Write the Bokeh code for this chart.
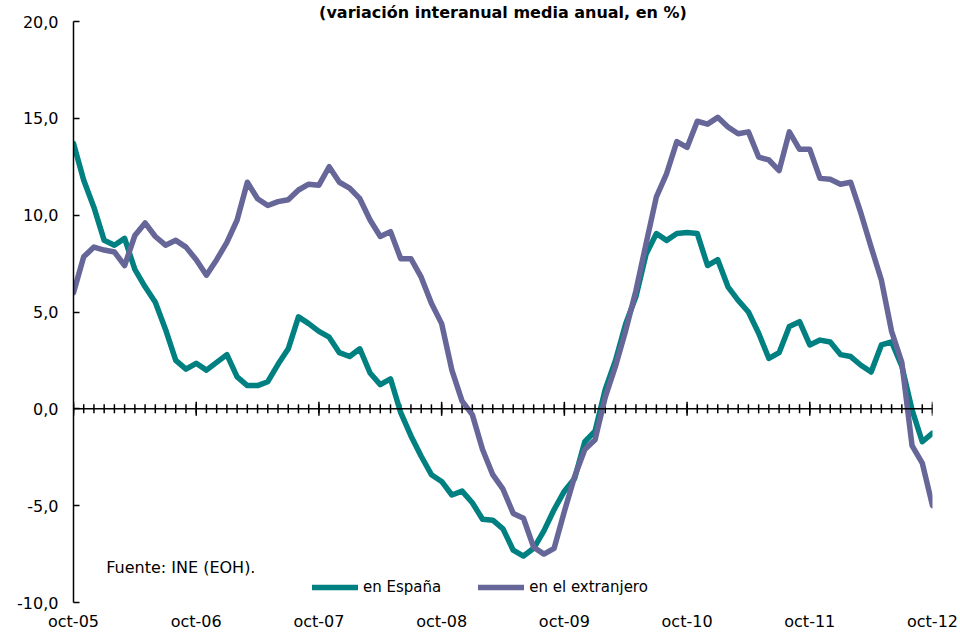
import math
from bokeh.plotting import figure
from bokeh.models import Span, Label, Legend, LegendItem, FixedTicker, Range1d
from bokeh.embed import file_html
from bokeh.resources import INLINE

# ---- data ----
tick_labels = ["oct-05", "oct-06", "oct-07", "oct-08", "oct-09", "oct-10", "oct-11", "oct-12"]
months = list(range(85))  # monthly, oct-05 .. oct-12
year_ticks = list(range(0, 85, 12))

espana = [13.7, 11.8, 10.4, 8.7, 8.45, 8.8, 7.2, 6.3, 5.5, 4.1,
          2.5, 2.05, 2.35, 2.0, 2.4, 2.8, 1.65, 1.2, 1.2, 1.4,
          2.3, 3.1, 4.75, 4.4, 4.0, 3.7, 2.9, 2.7, 3.1, 1.85,
          1.25, 1.55, -0.2, -1.4, -2.45, -3.4, -3.75, -4.45, -4.25, -4.85,
          -5.7, -5.75, -6.2, -7.3, -7.6, -7.2, -6.3, -5.2, -4.25, -3.6,
          -1.7, -1.15, 1.0, 2.5, 4.4, 5.8, 8.0, 9.05, 8.7, 9.05,
          9.1, 9.05, 7.4, 7.7, 6.3, 5.6, 5.0, 3.9, 2.6, 2.9,
          4.25, 4.5, 3.3, 3.55, 3.45, 2.8, 2.7, 2.25, 1.9, 3.3,
          3.45, 2.2, -0.05, -1.7, -1.25]

extranjero = [6.0, 7.85, 8.35, 8.2, 8.1, 7.4, 8.95, 9.6, 8.9, 8.45,
              8.7, 8.35, 7.7, 6.9, 7.7, 8.6, 9.75, 11.7, 10.85, 10.5,
              10.7, 10.8, 11.3, 11.6, 11.55, 12.5, 11.7, 11.4, 10.85, 9.75,
              8.9, 9.15, 7.75, 7.75, 6.8, 5.45, 4.4, 2.0, 0.4, -0.3,
              -2.1, -3.4, -4.15, -5.4, -5.65, -7.15, -7.5, -7.2, -5.3, -3.5,
              -2.1, -1.6, 0.6, 2.2, 4.05, 6.1, 8.55, 10.95, 12.15, 13.8,
              13.5, 14.85, 14.7, 15.05, 14.55, 14.2, 14.3, 13.0, 12.85, 12.3,
              14.3, 13.4, 13.4, 11.9, 11.85, 11.6, 11.7, 10.1, 8.35, 6.65,
              4.0, 2.4, -1.9, -2.8, -5.0]

y_ticks = [-10, -5, 0, 5, 10, 15, 20]
y_tick_labels = ["-10,0", "-5,0", "0,0", "5,0", "10,0", "15,0", "20,0"]

series_names = ["en España", "en el extranjero"]
colors = ["#008080", "#666699"]
title_text = "(variación interanual media anual, en %)"
source_text = "Fuente: INE (EOH)."

FONT = "DejaVu Sans"

p = figure(width=960, height=633, output_backend="svg", toolbar_location=None,
           x_range=Range1d(0, 84), y_range=Range1d(-10, 20),
           min_border_left=73, min_border_right=28, min_border_top=21,
           min_border_bottom=30)

p.title.text = title_text
p.title.align = "center"
p.title.text_font = FONT
p.title.text_font_style = "bold"
p.title.text_font_size = "16px"
p.title.text_color = "black"
p.title.standoff = 0

p.xgrid.visible = False
p.ygrid.visible = False
p.outline_line_color = None
p.background_fill_color = "white"

# x axis: labels only (ticks are drawn on the zero line)
p.xaxis.ticker = FixedTicker(ticks=year_ticks)
p.xaxis.major_label_overrides = {t: l for t, l in zip(year_ticks, tick_labels)}
p.xaxis.axis_line_color = None
p.xaxis.major_tick_line_color = None
p.xaxis.minor_tick_line_color = None
p.xaxis.major_label_standoff = 3
p.xaxis.major_label_text_font = FONT
p.xaxis.major_label_text_font_size = "16px"
p.xaxis.major_label_text_color = "black"

# y axis
p.yaxis.ticker = FixedTicker(ticks=y_ticks)
p.yaxis.major_label_overrides = {t: l for t, l in zip(y_ticks, y_tick_labels)}
p.yaxis.axis_line_color = "black"
p.yaxis.axis_line_width = 1.5
p.yaxis.major_tick_line_color = "black"
p.yaxis.major_tick_line_width = 1.5
p.yaxis.major_tick_in = 6
p.yaxis.major_tick_out = 0
p.yaxis.minor_tick_line_color = None
p.yaxis.major_label_standoff = 15
p.yaxis.major_label_text_font = FONT
p.yaxis.major_label_text_font_size = "16px"
p.yaxis.major_label_text_color = "black"

# zero line with monthly tick marks
p.add_layout(Span(location=0, dimension="width", line_color="black", line_width=1.5))
p.scatter(x=months, y=[0] * len(months), marker="dash", angle=math.pi / 2,
          size=9, line_color="black", line_width=1.5)
p.scatter(x=year_ticks, y=[0] * len(year_ticks), marker="dash", angle=math.pi / 2,
          size=14, line_color="black", line_width=1.5)

# series
r1 = p.line(months, espana, line_color=colors[0], line_width=5.5,
            line_join="round", line_cap="round")
r2 = p.line(months, extranjero, line_color=colors[1], line_width=5.5,
            line_join="round", line_cap="round")

legend = Legend(items=[LegendItem(label=series_names[0], renderers=[r1]),
                       LegendItem(label=series_names[1], renderers=[r2])],
                orientation="horizontal", location=(239, 5),
                glyph_width=46, glyph_height=20, label_standoff=5, spacing=37,
                padding=0, margin=0, border_line_color=None,
                background_fill_alpha=0,
                label_text_font=FONT, label_text_font_size="15px",
                label_text_color="black")
p.add_layout(legend)

p.add_layout(Label(x=3.2, y=-8.2, text=source_text, text_baseline="middle",
                   text_font=FONT, text_font_size="16px", text_color="black"))

open("out.html", "w").write(file_html(p, INLINE))
